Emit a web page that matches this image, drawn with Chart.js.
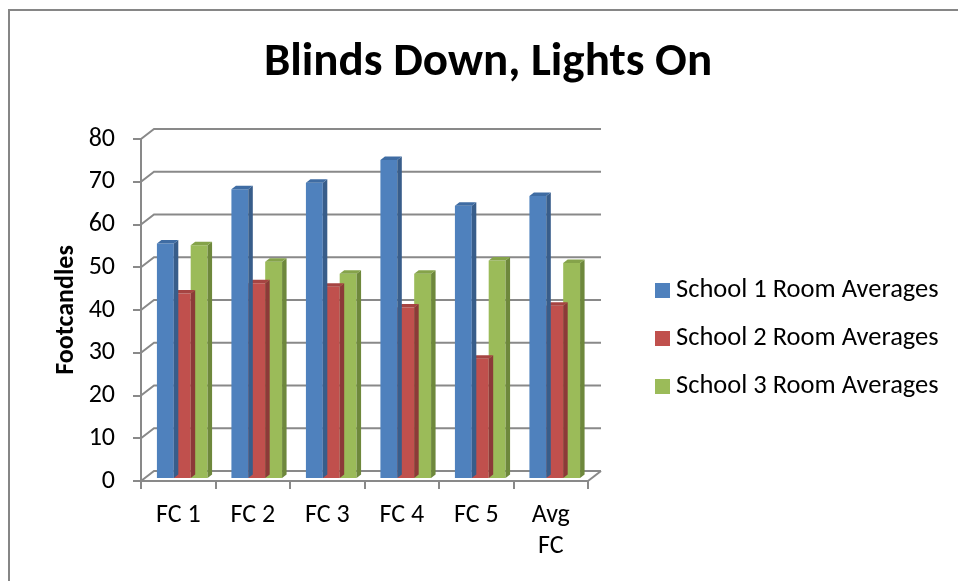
<!DOCTYPE html>
<html>
<head>
<meta charset="utf-8">
<script src="https://cdn.jsdelivr.net/npm/chart.js@4.4.1/dist/chart.umd.min.js"></script>
<style>
  html, body { margin: 0; padding: 0; background: #fff; }
  #wrap { position: relative; width: 958px; height: 581px; }
</style>
</head>
<body>
<div id="wrap"><canvas id="graficoFC"></canvas></div>
<script>
// dados
const categorias = ['FC 1', 'FC 2', 'FC 3', 'FC 4', 'FC 5', ['Avg', 'FC']];
const nomesSeries = ['School 1 Room Averages', 'School 2 Room Averages', 'School 3 Room Averages'];
const school1 = [55.1, 67.8, 69.3, 74.6, 63.9, 66.2];
const school2 = [43.4, 45.8, 45.0, 40.1, 28.1, 40.5];
const school3 = [54.7, 50.8, 48.0, 48.0, 51.1, 50.5];
const eixoYMin = 0;
const eixoYMax = 80;
const eixoYPasso = 10;

const FONTE = 'Carlito, Calibri, Lato, sans-serif';
const CINZA = '#898989';
const coresFrente = ['#4F81BD', '#C0504D', '#9BBB59'];
const coresLado = ['#385D8A', '#8C3A38', '#6E883C'];
const coresTopo = ['#3F6CA3', '#A64442', '#85A34A'];

// profundidade da "parede" e das barras (efeito 3D do Excel)
const DX = 13, DY = 10;
const BX = 4.5, BY = 3.5;
const SHIFT_X = 4, SHIFT_Y = -2;

// legenda desenhada à mão (a legenda do Chart.js fica estreita demais à direita)
const LEG_X = 655, LEG_Y = 290.5, LEG_PASSO = 48, LEG_CAIXA = 15;

const efeito3d = {
    id: 'efeito3d',
    beforeDatasetsDraw(chart) {
        const { ctx, chartArea, scales: { y } } = chart;
        ctx.save();
        ctx.strokeStyle = CINZA;
        ctx.lineWidth = 2;
        y.ticks.forEach(t => {
            const py = y.getPixelForValue(t.value);
            ctx.beginPath();
            ctx.moveTo(chartArea.left, py);
            ctx.lineTo(chartArea.left + DX, py - DY);
            ctx.lineTo(chartArea.right + DX, py - DY);
            ctx.stroke();
        });
        // diagonal do chão no lado direito
        ctx.beginPath();
        ctx.moveTo(chartArea.right, chartArea.bottom);
        ctx.lineTo(chartArea.right + DX, chartArea.bottom - DY);
        ctx.stroke();
        ctx.restore();

        ctx.save();
        ctx.translate(SHIFT_X, SHIFT_Y);
    },
    afterDatasetDraw(chart, args) {
        const ctx = chart.ctx;
        const i = args.index;
        args.meta.data.forEach(bar => {
            const { x, y, base, width } = bar.getProps(['x', 'y', 'base', 'width'], true);
            const l = x - width / 2;
            const r = x + width / 2;
            ctx.fillStyle = coresLado[i];
            ctx.beginPath();
            ctx.moveTo(r, y);
            ctx.lineTo(r + BX, y - BY);
            ctx.lineTo(r + BX, base - BY);
            ctx.lineTo(r, base);
            ctx.closePath();
            ctx.fill();
            ctx.fillStyle = coresTopo[i];
            ctx.beginPath();
            ctx.moveTo(l, y);
            ctx.lineTo(l + BX, y - BY);
            ctx.lineTo(r + BX, y - BY);
            ctx.lineTo(r, y);
            ctx.closePath();
            ctx.fill();
        });
    },
    afterDatasetsDraw(chart) {
        chart.ctx.restore();
    },
    afterDraw(chart) {
        const ctx = chart.ctx;
        ctx.save();
        // moldura cinza (só topo e esquerda aparecem no recorte)
        ctx.strokeStyle = '#868686';
        ctx.lineWidth = 2;
        ctx.beginPath();
        ctx.moveTo(9, chart.height);
        ctx.lineTo(9, 10);
        ctx.lineTo(chart.width, 10);
        ctx.stroke();

        // legenda
        ctx.font = '26.5px ' + FONTE;
        ctx.textBaseline = 'middle';
        ctx.textAlign = 'left';
        chart.data.datasets.forEach((ds, i) => {
            const cy = LEG_Y + i * LEG_PASSO;
            ctx.fillStyle = ds.backgroundColor;
            ctx.fillRect(LEG_X, cy - LEG_CAIXA / 2, LEG_CAIXA, LEG_CAIXA);
            ctx.fillStyle = '#000';
            ctx.fillText(ds.label, LEG_X + LEG_CAIXA + 6, cy);
        });
        ctx.restore();
    }
};

const series = [school1, school2, school3];

new Chart(document.getElementById('graficoFC'), {
    type: 'bar',
    data: {
        labels: categorias,
        datasets: series.map((dados, i) => ({
            label: nomesSeries[i],
            data: dados,
            backgroundColor: coresFrente[i],
            borderWidth: 0,
            categoryPercentage: 0.68,
            barPercentage: 1.0
        }))
    },
    options: {
        responsive: true,
        maintainAspectRatio: false,
        animation: false,
        layout: { padding: { left: 18, right: 0, top: 0, bottom: 0 } },
        plugins: {
            tooltip: { enabled: false },
            legend: { display: false },
            title: {
                display: true,
                text: 'Blinds Down, Lights On',
                color: '#000',
                font: { family: FONTE, size: 47, weight: 'bold' },
                padding: { top: 35.3, bottom: 47.3 }
            }
        },
        scales: {
            x: {
                ticks: {
                    color: '#000',
                    font: { family: FONTE, size: 26, lineHeight: 1.19 },
                    padding: 11.5,
                    maxRotation: 0,
                    autoSkip: false
                },
                grid: { drawOnChartArea: false, tickLength: 8, color: CINZA, lineWidth: 2, offset: true },
                border: { display: true, color: CINZA, width: 2 },
                afterFit(s) { s.height = 100; }
            },
            y: {
                min: eixoYMin,
                max: eixoYMax,
                ticks: {
                    stepSize: eixoYPasso,
                    color: '#000',
                    font: { family: FONTE, size: 26 },
                    padding: 18
                },
                grid: { drawOnChartArea: false, tickLength: 8, color: CINZA, lineWidth: 2 },
                border: { display: true, color: CINZA, width: 2 },
                title: {
                    display: true,
                    text: 'Footcandles',
                    color: '#000',
                    font: { family: FONTE, size: 26, weight: 'bold' },
                    padding: { top: 32.5 }
                },
                afterFit(s) { s.width = 123; }
            },
            espaco: {
                position: 'right',
                display: true,
                grid: { display: false },
                ticks: { display: false },
                border: { display: false },
                afterFit(s) { s.width = 370; }
            }
        }
    },
    plugins: [efeito3d]
});
</script>
</body>
</html>
